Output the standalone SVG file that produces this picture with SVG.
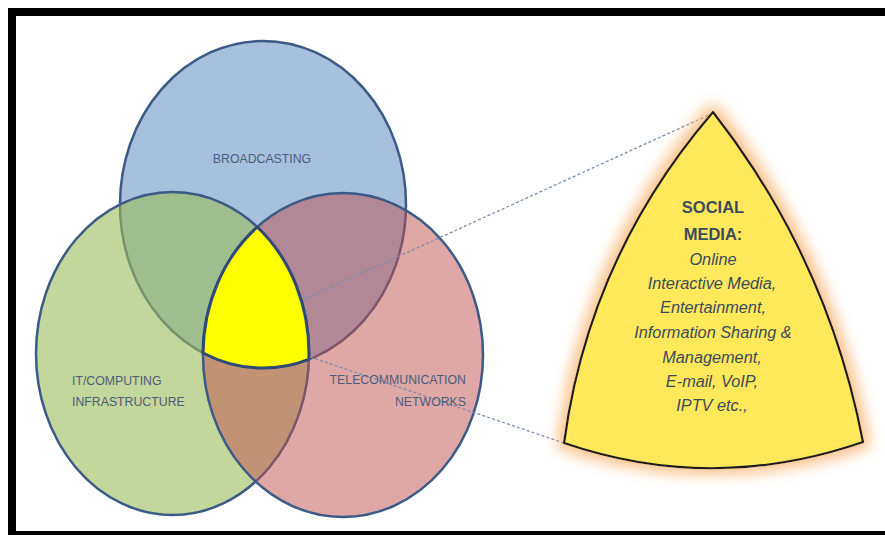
<svg xmlns="http://www.w3.org/2000/svg" width="885" height="538" viewBox="0 0 885 538">
<style>
.ell{stroke:#3b5a86;stroke-width:2.5}
.lbl{font-family:"Liberation Sans",Arial,sans-serif;font-size:12.3px;fill:#4d5d7a}
.sm{font-family:"Liberation Sans",Arial,sans-serif;fill:#3c4a5e;text-anchor:middle}
.b{font-weight:bold;font-size:16.5px}
.i{font-style:italic;font-size:16.3px}
.dash{fill:none;stroke:#7a8eb0;stroke-width:1.3;stroke-dasharray:3 2.2}
</style>
<defs>
<filter id="glow" x="-25%" y="-25%" width="150%" height="150%">
<feMorphology in="SourceAlpha" operator="dilate" radius="5" result="d"/>
<feGaussianBlur in="d" stdDeviation="7" result="bl"/>
<feFlood flood-color="#f7ae62" flood-opacity="0.75"/>
<feComposite in2="bl" operator="in" result="g"/>
<feMerge><feMergeNode in="g"/><feMergeNode in="SourceGraphic"/></feMerge>
</filter>
</defs>
<rect width="885" height="538" fill="#ffffff"/>
<g id="frame" fill="#000000">
<rect x="8" y="8" width="877" height="8"/>
<rect x="8" y="8" width="8" height="527"/>
<rect x="8" y="531" width="877" height="4"/>
</g>
<g id="broadcasting">
<ellipse class="ell" cx="263" cy="204.5" rx="143" ry="163.5" fill="#4f81bd" fill-opacity="0.5"/>
</g>
<g id="it-computing">
<ellipse class="ell" cx="172.5" cy="353.5" rx="136.5" ry="161.5" fill="#9bbb59" fill-opacity="0.6"/>
</g>
<g id="telecommunication">
<ellipse class="ell" cx="343" cy="355" rx="140" ry="162" fill="#c0504d" fill-opacity="0.5"/>
</g>
<g id="intersection">
<path d="M257.2,227 A140,162 0 0 0 203,353 A143,163.5 0 0 0 308.9,359.3 A136.5,161.5 0 0 0 257.2,227 Z" fill="#ffff00" stroke="#2e4a78" stroke-width="3" stroke-linejoin="round"/>
</g>
<g id="connectors">
<line class="dash" x1="303" y1="300" x2="711" y2="114"/>
<line class="dash" x1="310" y1="357" x2="564" y2="443"/>
</g>
<g id="labels">
<text class="lbl" x="262" y="163" text-anchor="middle">BROADCASTING</text>
<text class="lbl" x="72" y="385">IT/COMPUTING</text>
<text class="lbl" x="72" y="406">INFRASTRUCTURE</text>
<text class="lbl" x="466" y="384" text-anchor="end">TELECOMMUNICATION</text>
<text class="lbl" x="466" y="406" text-anchor="end">NETWORKS</text>
</g>
<g id="social-media">
<path d="M713,112 Q828,259 863,442 Q713,494 564,443 Q589,256 713,112 Z" fill="#ffe95a" stroke="#1f1f24" stroke-width="2.2" stroke-linejoin="round" filter="url(#glow)"/>
<text class="sm b" x="713" y="213">SOCIAL</text>
<text class="sm b" x="713" y="240">MEDIA:</text>
<text class="sm i" x="713" y="265">Online</text>
<text class="sm i" x="712" y="289">Interactive Media,</text>
<text class="sm i" x="713" y="313">Entertainment,</text>
<text class="sm i" x="713" y="338">Information Sharing &amp;</text>
<text class="sm i" x="712" y="363">Management,</text>
<text class="sm i" x="712" y="387">E-mail, VoIP,</text>
<text class="sm i" x="712" y="411">IPTV etc.,</text>
</g>
</svg>
